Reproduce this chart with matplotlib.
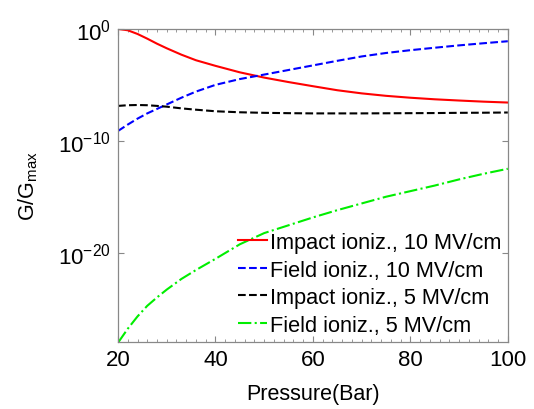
import numpy as np
import matplotlib
matplotlib.use("Agg")
import matplotlib.pyplot as plt
from matplotlib.ticker import MultipleLocator, NullLocator

plt.rcParams['font.family'] = ['Liberation Sans', 'DejaVu Sans']
plt.rcParams['mathtext.fontset'] = 'custom'
plt.rcParams['mathtext.rm'] = 'Liberation Sans'
plt.rcParams['mathtext.it'] = 'Liberation Sans'

# pressure in bar, values are log10(G/Gmax)
pressure = [20, 22, 24, 26, 28, 30, 33, 36, 40, 45, 50, 55, 60, 65, 70, 75,
            80, 85, 90, 95, 100]
impact_10 = [0, -0.12, -0.45, -0.87, -1.32, -1.73, -2.3, -2.8, -3.3, -3.88,
             -4.35, -4.75, -5.12, -5.48, -5.76, -5.98, -6.15, -6.29, -6.4,
             -6.5, -6.58]
field_10 = [-9.12, -8.55, -8.02, -7.55, -7.15, -6.75, -6.15, -5.6, -5.0, -4.48,
            -4.08, -3.67, -3.26, -2.85, -2.46, -2.15, -1.9, -1.68, -1.47,
            -1.28, -1.1]
impact_5 = [-6.88, -6.82, -6.8, -6.82, -6.88, -6.95, -7.1, -7.22, -7.36, -7.45,
            -7.5, -7.53, -7.55, -7.55, -7.55, -7.54, -7.53, -7.52, -7.5,
            -7.49, -7.47]
field_5 = [-28.05, -26.8, -25.7, -24.75, -24.0, -23.3, -22.35, -21.55, -20.55,
           -19.25, -18.25, -17.55, -16.85, -16.2, -15.6, -15.0, -14.5, -14.0,
           -13.45, -12.95, -12.5]

labels = ["Impact ioniz., 10 MV/cm", "Field ioniz., 10 MV/cm",
          "Impact ioniz., 5 MV/cm", "Field ioniz., 5 MV/cm"]

fig = plt.figure(figsize=(5.34, 4.10), dpi=100)
ax = fig.add_axes([0.221, 0.163, 0.730, 0.764])

p = np.array(pressure)
ax.semilogy(p, 10.0 ** np.array(impact_10), color='#ff0000', lw=1.5, ls='-', label=labels[0])
ax.semilogy(p, 10.0 ** np.array(field_10), color='#0000ff', lw=1.5, ls='--', label=labels[1])
ax.semilogy(p, 10.0 ** np.array(impact_5), color='black', lw=1.5, ls='--', label=labels[2])
ax.semilogy(p, 10.0 ** np.array(field_5), color='#00ee00', lw=1.5, ls='-.', label=labels[3])

ax.set_xlim(20, 100)
ax.set_ylim(1e-28, 1)
ax.set_xticks([20, 40, 60, 80, 100])
ax.xaxis.set_minor_locator(MultipleLocator(2))
ax.set_yticks([1e-20, 1e-10, 1e0])
ax.yaxis.set_minor_locator(NullLocator())

ax.tick_params(which='both', direction='in', top=True, right=True,
               colors='#888888', labelcolor='black', labelsize=16)
ax.tick_params(which='major', length=4, width=0.8, pad=5)
ax.tick_params(which='minor', length=2, width=0.6)
for s in ax.spines.values():
    s.set_color('#888888')
    s.set_linewidth(0.9)

ax.set_xlabel("Pressure(Bar)", fontsize=15.5, labelpad=9)
ax.set_ylabel("G/G$_{\\rm max}$", fontsize=15.5, labelpad=13)

ax.legend(loc='lower right', bbox_to_anchor=(1.0, 0.0), frameon=False,
          fontsize=15.7, handlelength=1.3, handletextpad=0.15,
          labelspacing=0.3, borderpad=0.3, borderaxespad=0.0)

fig.savefig("out.png", dpi=100)
